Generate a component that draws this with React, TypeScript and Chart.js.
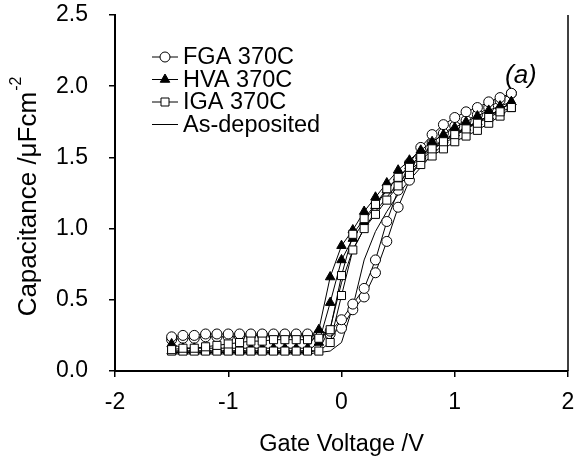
import React, { useEffect, useRef } from "react";
import { Chart, registerables } from "chart.js";

Chart.register(...registerables);

// Gate voltage sweep points (V)
const voltages = [
  -1.5, -1.4, -1.3, -1.2, -1.1, -1.0, -0.9, -0.8, -0.7, -0.6, -0.5, -0.4, -0.3, -0.2, -0.1,
  0.0, 0.1, 0.2, 0.3, 0.4, 0.5, 0.6, 0.7, 0.8, 0.9, 1.0, 1.1, 1.2, 1.3, 1.4, 1.5,
];

// Capacitance (uF/cm^2), one array per sweep branch, indexed like `voltages`
const fgaUp = [
  0.22, 0.23, 0.23, 0.24, 0.24, 0.24, 0.24, 0.25, 0.25, 0.25, 0.25, 0.25, 0.25, 0.25, 0.26,
  0.30, 0.43, 0.52, 0.69, 0.91, 1.15, 1.34, 1.50, 1.60, 1.67, 1.72, 1.76, 1.80, 1.85, 1.90, 1.95,
];
const fgaDown = [
  0.24, 0.25, 0.25, 0.26, 0.26, 0.26, 0.26, 0.26, 0.26, 0.26, 0.26, 0.26, 0.26, 0.26, 0.28,
  0.36, 0.47, 0.58, 0.78, 1.05, 1.27, 1.46, 1.57, 1.66, 1.73, 1.78, 1.82, 1.85, 1.89, 1.92, 1.95,
];
const hvaUp = [
  0.14, 0.14, 0.14, 0.14, 0.14, 0.14, 0.14, 0.14, 0.14, 0.14, 0.14, 0.14, 0.14, 0.20, 0.48,
  0.78, 0.93, 1.05, 1.16, 1.27, 1.36, 1.44, 1.51, 1.57, 1.62, 1.67, 1.71, 1.75, 1.79, 1.83, 1.89,
];
const hvaDown = [
  0.19, 0.16, 0.16, 0.16, 0.16, 0.16, 0.16, 0.16, 0.16, 0.16, 0.16, 0.16, 0.16, 0.29, 0.66,
  0.88, 0.99, 1.12, 1.22, 1.32, 1.41, 1.48, 1.55, 1.61, 1.66, 1.71, 1.75, 1.79, 1.83, 1.86, 1.89,
];
const igaUp = [
  0.14, 0.14, 0.14, 0.14, 0.14, 0.14, 0.14, 0.14, 0.14, 0.14, 0.14, 0.14, 0.14, 0.14, 0.20,
  0.53, 0.85, 1.00, 1.10, 1.20, 1.30, 1.38, 1.45, 1.51, 1.56, 1.61, 1.65, 1.69, 1.74, 1.79, 1.85,
];
const igaDown = [
  0.15, 0.16, 0.16, 0.17, 0.18, 0.19, 0.20, 0.21, 0.21, 0.22, 0.22, 0.22, 0.22, 0.23, 0.29,
  0.67, 0.96, 1.07, 1.17, 1.28, 1.36, 1.43, 1.50, 1.56, 1.61, 1.66, 1.70, 1.74, 1.78, 1.82, 1.85,
];
const asDepUp = [
  0.12, 0.12, 0.12, 0.12, 0.12, 0.12, 0.12, 0.12, 0.12, 0.12, 0.12, 0.12, 0.12, 0.13, 0.14,
  0.20, 0.45, 0.78, 0.98, 1.12, 1.24, 1.34, 1.43, 1.52, 1.59, 1.65, 1.70, 1.75, 1.79, 1.84, 1.88,
];
const asDepDown = [
  0.13, 0.13, 0.13, 0.13, 0.13, 0.13, 0.13, 0.13, 0.13, 0.13, 0.13, 0.13, 0.13, 0.15, 0.30,
  0.62, 0.85, 1.00, 1.12, 1.22, 1.32, 1.40, 1.48, 1.55, 1.61, 1.66, 1.71, 1.75, 1.79, 1.84, 1.88,
];

const seriesNames = ["FGA 370C", "HVA 370C", "IGA 370C", "As-deposited"];
const xTickValues = [-2, -1, 0, 1, 2];
const yTickValues = [0, 0.5, 1.0, 1.5, 2.0, 2.5];
const xTitle = "Gate Voltage /V";
const yTitleMain = "Capacitance /\u03bcFcm";
const yTitleSup = "-2";
const panelLabel = "(a)";

const FONT = "Arial, 'Liberation Sans', sans-serif";
const TICK_FS = 23;
const LEGEND_FS = 23.5;
const TITLE_FS = 23.5;
const YTITLE_FS = 26;

function loop(up: number[], down: number[]) {
  const pts: { x: number; y: number }[] = [];
  voltages.forEach((v, i) => pts.push({ x: v, y: up[i] }));
  for (let i = voltages.length - 1; i >= 0; i--) pts.push({ x: voltages[i], y: down[i] });
  return pts;
}

type MarkerKind = "circle" | "triangle" | "rect" | "none";

function drawMarker(ctx: CanvasRenderingContext2D, kind: MarkerKind, x: number, y: number) {
  ctx.save();
  ctx.lineWidth = 1;
  ctx.strokeStyle = "#000";
  if (kind === "circle") {
    ctx.beginPath();
    ctx.arc(x, y, 5, 0, Math.PI * 2);
    ctx.fillStyle = "#fff";
    ctx.fill();
    ctx.stroke();
  } else if (kind === "triangle") {
    const r = 5.5;
    ctx.beginPath();
    ctx.moveTo(x, y - r);
    ctx.lineTo(x + r * 0.866, y + r * 0.5);
    ctx.lineTo(x - r * 0.866, y + r * 0.5);
    ctx.closePath();
    ctx.fillStyle = "#000";
    ctx.fill();
    ctx.stroke();
  } else if (kind === "rect") {
    ctx.beginPath();
    ctx.rect(x - 4, y - 4, 8, 8);
    ctx.fillStyle = "#fff";
    ctx.fill();
    ctx.stroke();
  }
  ctx.restore();
}

const legendKinds: MarkerKind[] = ["circle", "triangle", "rect", "none"];

const decorPlugin = {
  id: "decor",
  afterDraw(chart: any) {
    const ctx: CanvasRenderingContext2D = chart.ctx;
    const a = chart.chartArea;
    ctx.save();
    // right frame line
    ctx.strokeStyle = "#000";
    ctx.lineWidth = 1.5;
    ctx.beginPath();
    ctx.moveTo(a.right, a.top);
    ctx.lineTo(a.right, a.bottom);
    ctx.stroke();

    // legend
    const lx0 = a.left + 37;
    const lx1 = a.left + 63;
    const tx = a.left + 68;
    const rowY = [a.top + 42, a.top + 64.5, a.top + 87, a.top + 109.5];
    ctx.font = `${LEGEND_FS}px ${FONT}`;
    ctx.fillStyle = "#000";
    ctx.textBaseline = "middle";
    ctx.textAlign = "left";
    seriesNames.forEach((name, i) => {
      const y = rowY[i];
      ctx.strokeStyle = "#000";
      ctx.lineWidth = 1;
      ctx.beginPath();
      ctx.moveTo(lx0, y);
      ctx.lineTo(lx1, y);
      ctx.stroke();
      drawMarker(ctx, legendKinds[i], (lx0 + lx1) / 2, y);
      ctx.fillStyle = "#000";
      ctx.fillText(name, tx, y + 1);
    });

    // panel label
    ctx.font = `italic 26px ${FONT}`;
    ctx.textAlign = "left";
    ctx.fillText(panelLabel, a.right - 63, a.top + 61);

    // x title
    ctx.font = `${TITLE_FS}px ${FONT}`;
    ctx.textAlign = "center";
    ctx.fillText(xTitle, (a.left + a.right) / 2, 445);

    // y title with superscript
    ctx.translate(29, (a.top + a.bottom) / 2 + 4);
    ctx.rotate(-Math.PI / 2);
    ctx.font = `${YTITLE_FS}px ${FONT}`;
    const w1 = ctx.measureText(yTitleMain).width;
    ctx.font = `16px ${FONT}`;
    const w2 = ctx.measureText(yTitleSup).width;
    const start = -(w1 + w2) / 2;
    ctx.textAlign = "left";
    ctx.font = `${YTITLE_FS}px ${FONT}`;
    ctx.fillText(yTitleMain, start, 0);
    ctx.font = `16px ${FONT}`;
    ctx.fillText(yTitleSup, start + w1 + 1, -12);
    ctx.restore();
  },
};

export default function App() {
  const ref = useRef<HTMLCanvasElement | null>(null);

  useEffect(() => {
    document.body.style.margin = "0";
    const canvas = ref.current;
    if (!canvas) return;

    const base = {
      showLine: true,
      borderColor: "#000",
      borderWidth: 1,
      pointBorderColor: "#000",
      pointBorderWidth: 1,
      pointHoverRadius: 0,
    };

    const chart = new Chart(canvas, {
      type: "scatter",
      data: {
        datasets: [
          {
            ...base,
            label: seriesNames[2],
            data: loop(igaUp, igaDown),
            pointStyle: "rect",
            pointRadius: 5.7,
            pointBackgroundColor: "#fff",
            order: 0,
          },
          {
            ...base,
            label: seriesNames[1],
            data: loop(hvaUp, hvaDown),
            pointStyle: "triangle",
            pointRadius: 5.5,
            pointBackgroundColor: "#000",
            order: 1,
          },
          {
            ...base,
            label: seriesNames[0],
            data: loop(fgaUp, fgaDown),
            pointStyle: "circle",
            pointRadius: 5,
            pointBackgroundColor: "#fff",
            order: 2,
          },
          {
            ...base,
            label: seriesNames[3],
            data: loop(asDepUp, asDepDown),
            pointRadius: 0,
            order: 3,
          },
        ],
      },
      options: {
        animation: false,
        responsive: false,
        devicePixelRatio: 1,
        layout: { padding: { top: 15, right: 11, left: 0, bottom: 0 } },
        plugins: { legend: { display: false }, tooltip: { enabled: false } },
        scales: {
          x: {
            type: "linear",
            min: -2,
            max: 2,
            afterBuildTicks: (s: any) => {
              s.ticks = xTickValues.map((v) => ({ value: v }));
            },
            afterFit: (s: any) => {
              s.height = 99;
              s.paddingLeft = 0;
              s.paddingRight = 0;
            },
            ticks: {
              color: "#000",
              font: { family: FONT, size: TICK_FS },
              padding: 12,
              maxRotation: 0,
              callback: (v: any) => String(v),
            },
            grid: { drawOnChartArea: false, drawTicks: true, tickLength: 6, color: "#000", lineWidth: 1.5 },
            border: { color: "#000", width: 2 },
          },
          y: {
            type: "linear",
            min: 0,
            max: 2.5,
            afterBuildTicks: (s: any) => {
              s.ticks = yTickValues.map((v) => ({ value: v }));
            },
            afterFit: (s: any) => {
              s.width = 115;
              s.paddingTop = 0;
              s.paddingBottom = 0;
            },
            ticks: {
              color: "#000",
              font: { family: FONT, size: TICK_FS },
              padding: 21,
              callback: (v: any) => Number(v).toFixed(1),
            },
            grid: { drawOnChartArea: false, drawTicks: true, tickLength: 6, color: "#000", lineWidth: 1.5 },
            border: { color: "#000", width: 2 },
          },
        },
      },
      plugins: [decorPlugin],
    } as any);

    return () => chart.destroy();
  }, []);

  return (
    <div style={{ width: 579, height: 470, background: "#fff" }}>
      <canvas ref={ref} width={579} height={470} style={{ display: "block" }} />
    </div>
  );
}
